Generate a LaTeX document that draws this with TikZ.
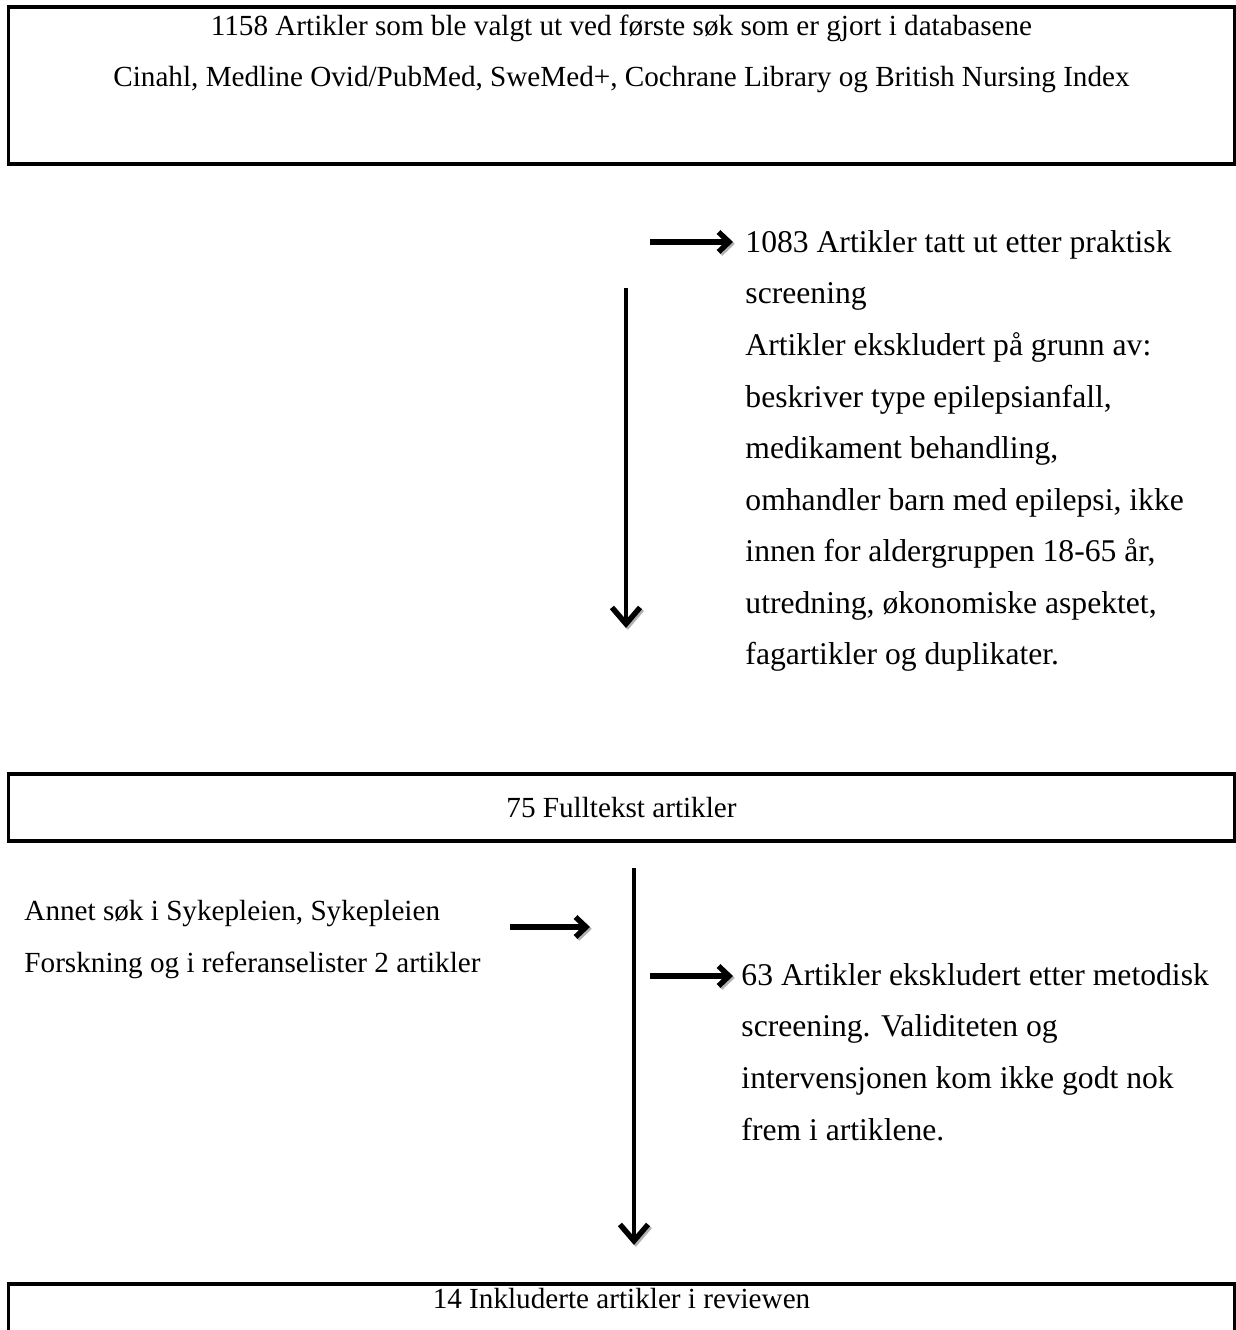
\documentclass[tikz,border=0pt]{standalone}
\usepackage{fontspec}
\setmainfont{Liberation Serif}
\usetikzlibrary{arrows.meta,positioning,calc}
\tikzset{
box/.style = {draw, line width=1.3pt, rectangle, inner sep=0pt, minimum width=18.375cm, font=\fontsize{12.45}{21.8}\selectfont},
tmp/.style  = {coordinate},
note/.style = {align=left, anchor=north west, inner sep=0pt, font=\fontsize{13.5}{22}\selectfont},
side/.style = {align=left, anchor=north west, inner sep=0pt, font=\fontsize{12.45}{22.2}\selectfont},
head/.style = {align=center, inner sep=0pt, font=\fontsize{12.45}{21.8}\selectfont},
flow/.style = {line width=2.5pt, -{Straight Barb[length=4.5pt,width=8.5pt,line width=2.3pt]},
  preaction={draw=black!30, transform canvas={shift={(0.8pt,-0.8pt)}}}},
drop/.style = {line width=2pt, -{Straight Barb[length=7pt,width=12pt,line width=2.3pt]},
  preaction={draw=black!30, transform canvas={shift={(0.8pt,-0.8pt)}}}}
}
\begin{document}
\begin{tikzpicture}[x=0.015cm, y=-0.015cm]
\useasboundingbox (0,0) rectangle (1236,1330);
% boxes
\node[box, minimum height=2.355cm] (search) at (621.5,85.5) {};
\node[head] (searchtxt) at (621.5,54) {1158 Artikler som ble valgt ut ved første søk som er gjort i databasene\\
Cinahl, Medline Ovid/PubMed, SweMed+, Cochrane Library og British Nursing Index};
\node[box, minimum height=1.005cm] (full) at (621.5,807.5) {75 Fulltekst artikler};
\node[box, minimum height=0.825cm] (incl) at (621.5,1311.5) {};
\node[head] (incltxt) at (621.5,1299) {14 Inkluderte artikler i reviewen};
% side notes
\node[note] (excl1) at (745,230) {1083 Artikler tatt ut etter praktisk\\
screening\\
Artikler ekskludert på grunn av:\\
beskriver type epilepsianfall,\\
medikament behandling,\\
omhandler barn med epilepsi, ikke\\
innen for aldergruppen 18-65 år,\\
utredning, økonomiske aspektet,\\
fagartikler og duplikater.};
\node[side] (extra) at (24,900) {Annet søk i Sykepleien, Sykepleien\\
Forskning og i referanselister 2 artikler};
\node[note] (excl2) at (741,963) {63 Artikler ekskludert etter metodisk\\
screening. Validiteten og\\
intervensjonen kom ikke godt nok\\
frem i artiklene.};
% arrow ends
\coordinate (a1s) at (650,242);
\coordinate (a1e) at (733,242);
\coordinate (v1s) at (626,288);
\coordinate (v1e) at (626,628);
\coordinate (a2s) at (510,927);
\coordinate (a2e) at (590,927);
\coordinate (v2s) at (634,868);
\coordinate (v2e) at (634,1245);
\coordinate (a3s) at (650,976);
\coordinate (a3e) at (733,976);
\draw[flow] (a1s) -- (a1e);
\draw[drop] (v1s) -- (v1e);
\draw[flow] (a2s) -- (a2e);
\draw[drop] (v2s) -- (v2e);
\draw[flow] (a3s) -- (a3e);
\end{tikzpicture}
\end{document}
